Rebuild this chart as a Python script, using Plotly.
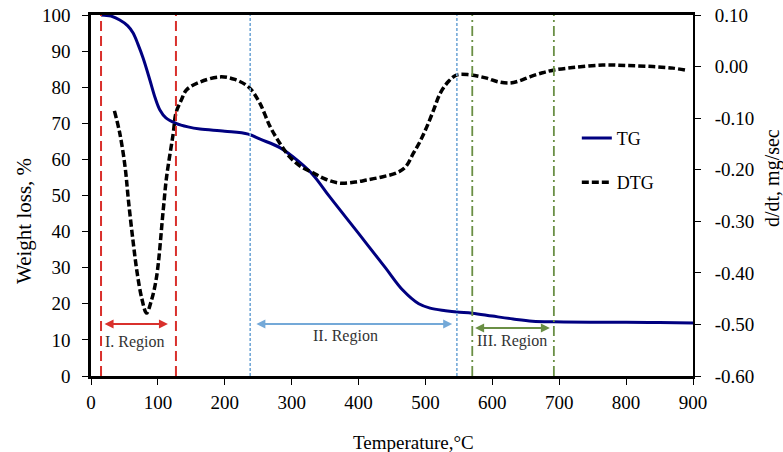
import plotly.graph_objects as go

# ---- data ----
tg_temp = [15, 30, 43, 55, 63, 70, 78, 88, 96, 103, 112, 127, 145, 163, 200, 235, 253, 283, 310, 332, 357,
           400, 440, 466, 490, 507, 530, 547, 570, 600, 631, 660, 692, 750, 800, 850, 900]
tg_weight = [100, 99.7, 98.6, 97, 95, 92, 88, 82, 77, 73.7, 71.5, 70, 69, 68.4, 67.8, 67, 65.6, 63.2, 59.5, 55.7, 49.6,
             39.5, 30, 23.8, 20, 18.8, 18.1, 17.7, 17.4, 16.6, 15.8, 15.2, 15.0, 14.9, 14.9, 14.8, 14.7]

dtg_temp = [35, 43, 51, 56, 63, 69, 76, 83, 90, 98, 108, 113, 123, 127, 135, 143, 163, 193, 215, 236, 252, 268,
            283, 297, 315, 332, 350, 372, 395, 412, 435, 457, 470, 482, 492, 502, 512, 522, 535, 547, 566, 590,
            610, 626, 640, 656, 675, 691, 720, 765, 800, 840, 870, 889]
dtg_rate = [-0.086, -0.129, -0.195, -0.26, -0.34, -0.40, -0.45, -0.478, -0.455, -0.408, -0.278, -0.214, -0.129,
            -0.09, -0.065, -0.045, -0.03, -0.020, -0.025, -0.040, -0.07, -0.117, -0.150, -0.175, -0.195, -0.206,
            -0.218, -0.226, -0.224, -0.220, -0.214, -0.206, -0.195, -0.168, -0.145, -0.117, -0.085, -0.052, -0.028,
            -0.016, -0.016, -0.022, -0.030, -0.032, -0.028, -0.020, -0.012, -0.007, -0.002, 0.003, 0.002, 0.000,
            -0.003, -0.007]

dtg_tick_vals = [0.10, 0.00, -0.10, -0.20, -0.30, -0.40, -0.50, -0.60]
dtg_tick_text = ["0.10", "0.00", "-0.10", "-0.20", "-0.30", "-0.40", "-0.50", "-0.60"]

region_bounds = {"I": (15, 127), "II": (238, 547), "III": (570, 692)}
region_labels = ["I. Region", "II. Region", "III. Region"]

FONT = "Liberation Serif"
RED = "#d9302c"
BLUE = "#74a9d8"
GREEN = "#6a8f45"

fig = go.Figure()
fig.add_trace(go.Scatter(x=tg_temp, y=tg_weight, name="TG", mode="lines",
                         line=dict(color="#000080", width=3, shape="spline"), legendgroup="a"))
fig.add_trace(go.Scatter(x=dtg_temp, y=dtg_rate, name="DTG", mode="lines", yaxis="y2",
                         line=dict(color="black", width=3.5, dash="7px,3px", shape="spline"), legendgroup="b"))

shapes = []
styles = {"I": (RED, "10px,5px", 2), "II": (BLUE, "3px,2px", 1.6), "III": (GREEN, "10px,4px,2px,4px", 1.8)}
for key, (a, b) in region_bounds.items():
    col, dash, w = styles[key]
    for xv in (a, b):
        shapes.append(dict(type="line", xref="x", yref="paper", x0=xv, x1=xv, y0=0, y1=1,
                           line=dict(color=col, width=w, dash=dash), layer="above"))

annotations = []
arrows = [(18, 115, 14.4, RED), (245, 540, 14.4, BLUE), (572, 686, 13.3, GREEN)]
for x0, x1, yv, col in arrows:
    annotations.append(dict(x=x1, y=yv, ax=x0, ay=yv, xref="x", yref="y", axref="x", ayref="y",
                            showarrow=True, arrowhead=2, startarrowhead=2, arrowside="end+start",
                            arrowcolor=col, arrowwidth=1.8, arrowsize=1, startarrowsize=1, text=""))
label_pos = [(66, 9.4), (380, 11.0), (629, 9.7)]
for (xv, yv), txt in zip(label_pos, region_labels):
    annotations.append(dict(x=xv, y=yv, xref="x", yref="y", text=txt, showarrow=False,
                            font=dict(family=FONT, size=16, color="#333333")))

# axis titles
annotations.append(dict(x=0.535, y=-0.183, xref="paper", yref="paper", text="Temperature,°C", showarrow=False,
                        xanchor="center", yanchor="middle", font=dict(family=FONT, size=19, color="black")))
annotations.append(dict(x=-0.111, y=0.43, xref="paper", yref="paper", text="Weight loss, %", showarrow=False,
                        xanchor="center", yanchor="middle",
                        textangle=-90, font=dict(family=FONT, size=21, color="black")))
annotations.append(dict(x=1.131, y=0.548, xref="paper", yref="paper", text="d/dt, mg/sec", showarrow=False,
                        xanchor="center", yanchor="middle",
                        textangle=-90, font=dict(family=FONT, size=20, color="black")))

axis_common = dict(showgrid=False, zeroline=False, showline=True, linecolor="black",
                   ticks="outside", ticklen=6, tickcolor="black", tickwidth=1, automargin=False,
                   ticklabeloverflow="allow",
                   tickfont=dict(family=FONT, size=19, color="black"))

fig.update_layout(
    width=783, height=452,
    margin=dict(l=91, r=90, t=15, b=76, autoexpand=False),
    paper_bgcolor="white", plot_bgcolor="white",
    font=dict(family=FONT, size=18, color="black"),
    showlegend=True,
    legend=dict(x=0.807, y=0.71, xanchor="left", yanchor="top", bgcolor="rgba(0,0,0,0)",
                font=dict(family=FONT, size=18, color="black"), tracegroupgap=18, itemwidth=30),
    xaxis=dict(range=[0, 900], dtick=100, tick0=0, mirror=True, linewidth=2.5, ticklabelstandoff=1,
               **axis_common),
    yaxis=dict(range=[0, 100], dtick=10, linewidth=2.5, ticklabelstandoff=8, **axis_common),
    yaxis2=dict(range=[-0.6, 0.1], tickmode="array", tickvals=dtg_tick_vals, ticktext=dtg_tick_text,
                overlaying="y", side="right",
                linewidth=2, ticklabelstandoff=10, **axis_common),
    shapes=shapes, annotations=annotations,
)

# remove the browser's default 8px body margin so the figure fills the window exactly
fig.write_html("out.html", config={"displayModeBar": False},
               post_script="document.body.style.margin='0';document.body.style.overflow='hidden';")
